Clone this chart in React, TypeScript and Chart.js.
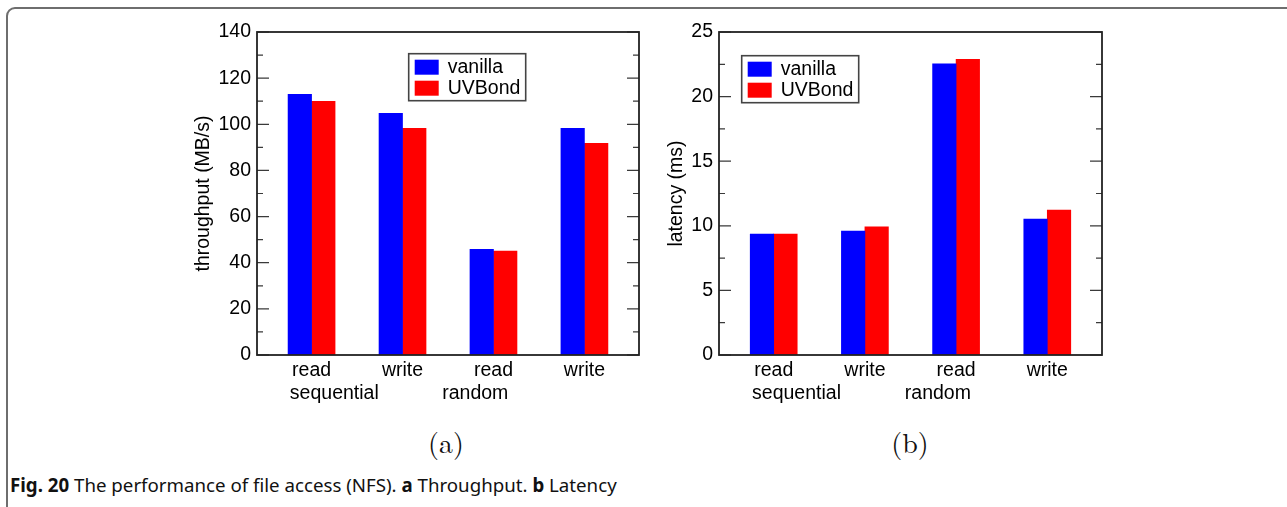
import React, { useEffect, useRef } from 'react';
import { Chart, registerables } from 'chart.js';

Chart.register(...registerables);

// ---------- data ----------
const categories = ['read', 'write', 'read', 'write'];
const categoryPositions = [1, 2, 3, 4];
const groupLabels = ['sequential', 'random'];
const groupLabelPositions = [1.25, 2.8];
const seriesNames = ['vanilla', 'UVBond'];
const seriesColors = ['#0000ff', '#ff0000'];

const throughputVanilla = [113.0, 104.7, 45.8, 98.2];
const throughputUVBond = [109.9, 98.3, 45.0, 91.7];
const latencyVanilla = [9.36, 9.59, 22.53, 10.52];
const latencyUVBond = [9.36, 9.92, 22.89, 11.21];

const throughputAxis = { min: 0, max: 140, minorStep: 10, majorStep: 20, title: 'throughput (MB/s)' };
const latencyAxis = { min: 0, max: 25, minorStep: 2.5, majorStep: 5, title: 'latency (ms)' };

const FONT = '"Liberation Sans", Arial, Helvetica, sans-serif';
const FONT_SIZE = 19.5;

// ---------- plugin: frame, inward ticks, legend ----------
const frameTicksPlugin = {
  id: 'frameTicks',
  afterDatasetsDraw(chart: any, _args: any, opts: any) {
    const { ctx, chartArea: a, scales } = chart;
    const y = scales.y;
    ctx.save();
    ctx.strokeStyle = '#3a3a3a';
    ctx.lineWidth = 1.2;
    y.ticks.forEach((t: any) => {
      const py = y.getPixelForValue(t.value);
      const ratio = t.value / opts.majorStep;
      const major = Math.abs(ratio - Math.round(ratio)) < 1e-6;
      const len = major ? 12 : 6;
      ctx.beginPath();
      ctx.moveTo(a.left, py);
      ctx.lineTo(a.left + len, py);
      ctx.moveTo(a.right, py);
      ctx.lineTo(a.right - len, py);
      ctx.stroke();
    });
    ctx.strokeStyle = '#222';
    ctx.lineWidth = 1.8;
    ctx.strokeRect(a.left, a.top, a.right - a.left, a.bottom - a.top);

    const lx = a.left + opts.legendX;
    const ly = a.top + opts.legendY;
    const lw = 117;
    const lh = 47;
    ctx.fillStyle = '#ffffff';
    ctx.fillRect(lx, ly, lw, lh);
    ctx.strokeStyle = '#444';
    ctx.lineWidth = 1.6;
    ctx.strokeRect(lx, ly, lw, lh);
    ctx.font = `${FONT_SIZE}px ${FONT}`;
    ctx.textBaseline = 'middle';
    ctx.textAlign = 'left';
    chart.data.datasets.forEach((ds: any, i: number) => {
      const sy = ly + 6 + i * 21;
      ctx.fillStyle = ds.backgroundColor;
      ctx.fillRect(lx + 6, sy, 24, 15);
      ctx.fillStyle = '#000';
      ctx.fillText(ds.label, lx + 39, sy + 8);
    });
    ctx.restore();
  },
};

function xLabel(v: number): any {
  const ci = categoryPositions.findIndex((p) => Math.abs(p - v) < 1e-6);
  if (ci >= 0) return categories[ci];
  const gi = groupLabelPositions.findIndex((p) => Math.abs(p - v) < 1e-6);
  if (gi >= 0) return ['', groupLabels[gi]];
  return '';
}

function makeConfig(
  vanilla: number[],
  uvbond: number[],
  axis: any,
  yWidth: number,
  titlePad: number,
  padRight: number,
  legendX: number,
  legendY: number
): any {
  const series = [vanilla, uvbond];
  return {
    type: 'bar',
    data: {
      datasets: series.map((vals, si) => ({
        label: seriesNames[si],
        data: vals.map((v, i) => ({ x: categoryPositions[i], y: v })),
        backgroundColor: seriesColors[si],
        borderWidth: 0,
        barThickness: 23.5,
      })),
    },
    options: {
      animation: false,
      responsive: false,
      maintainAspectRatio: false,
      layout: { padding: { left: 0, right: padRight, top: 22, bottom: 0 } },
      plugins: {
        legend: { display: false },
        tooltip: { enabled: false },
        frameTicks: { majorStep: axis.majorStep, legendX, legendY },
      },
      scales: {
        x: {
          type: 'linear',
          min: 0.4,
          max: 4.6,
          offset: false,
          grid: { display: false, drawTicks: false, offset: false },
          border: { display: false },
          afterBuildTicks: (scale: any) => {
            scale.ticks = [...categoryPositions, ...groupLabelPositions]
              .sort((p, q) => p - q)
              .map((v) => ({ value: v }));
          },
          afterFit: (scale: any) => {
            scale.height = 55;
          },
          ticks: {
            autoSkip: false,
            maxRotation: 0,
            minRotation: 0,
            padding: 4,
            color: '#000',
            font: { family: FONT, size: FONT_SIZE },
            callback: (v: number) => xLabel(v),
          },
        },
        y: {
          type: 'linear',
          min: axis.min,
          max: axis.max,
          grid: { display: false, drawTicks: false },
          border: { display: false },
          afterFit: (scale: any) => {
            scale.width = yWidth;
          },
          ticks: {
            stepSize: axis.minorStep,
            autoSkip: false,
            padding: 6,
            color: '#000',
            font: { family: FONT, size: FONT_SIZE },
            callback: (v: number) => {
              const r = v / axis.majorStep;
              return Math.abs(r - Math.round(r)) < 1e-6 ? String(v) : '';
            },
          },
          title: {
            display: true,
            text: axis.title,
            color: '#000',
            font: { family: FONT, size: FONT_SIZE },
            padding: { top: titlePad, bottom: 0 },
          },
        },
      },
    },
    plugins: [frameTicksPlugin],
  };
}

function BarChart(props: { config: any; left: number; top: number; width: number; height: number }) {
  const ref = useRef<HTMLCanvasElement | null>(null);
  useEffect(() => {
    if (!ref.current) return;
    const chart = new Chart(ref.current, props.config);
    return () => chart.destroy();
  }, []);
  return (
    <canvas
      ref={ref}
      width={props.width}
      height={props.height}
      style={{
        position: 'absolute',
        left: props.left,
        top: props.top,
        width: props.width,
        height: props.height,
      }}
    />
  );
}

export default function App() {
  useEffect(() => {
    document.body.style.margin = '0';
  }, []);
  const cfgA = makeConfig(throughputVanilla, throughputUVBond, throughputAxis, 77, 12.3, 11, 151.7, 21.7);
  const cfgB = makeConfig(latencyVanilla, latencyUVBond, latencyAxis, 69, 15, 28, 22.7, 23.7);
  const subStyle: React.CSSProperties = {
    position: 'absolute',
    top: 423,
    width: 120,
    textAlign: 'center',
    fontFamily: '"Latin Modern Roman", "DejaVu Serif", "Liberation Serif", serif',
    fontSize: 28,
    lineHeight: '36px',
    color: '#111',
  };
  return (
    <div
      style={{
        position: 'relative',
        width: 1287,
        height: 507,
        overflow: 'hidden',
        background: '#fff',
      }}
    >
      <div
        style={{
          position: 'absolute',
          left: 6,
          top: 7,
          width: 1320,
          height: 540,
          border: '2px solid #6e6e6e',
          borderRadius: 9,
          boxSizing: 'border-box',
        }}
      />
      <BarChart config={cfgA} left={180} top={10} width={470} height={400} />
      <BarChart config={cfgB} left={650} top={10} width={480} height={400} />
      <div style={{ ...subStyle, left: 446 - 60 }}>(a)</div>
      <div style={{ ...subStyle, left: 910 - 60 }}>(b)</div>
      <div
        style={{
          position: 'absolute',
          left: 10,
          top: 473,
          fontFamily: '"Noto Sans", "Open Sans", sans-serif',
          fontSize: 18.7,
          lineHeight: '24px',
          color: '#111',
          whiteSpace: 'nowrap',
        }}
      >
        <b>Fig. 20</b> The performance of file access (NFS). <b>a</b> Throughput. <b>b</b> Latency
      </div>
    </div>
  );
}
